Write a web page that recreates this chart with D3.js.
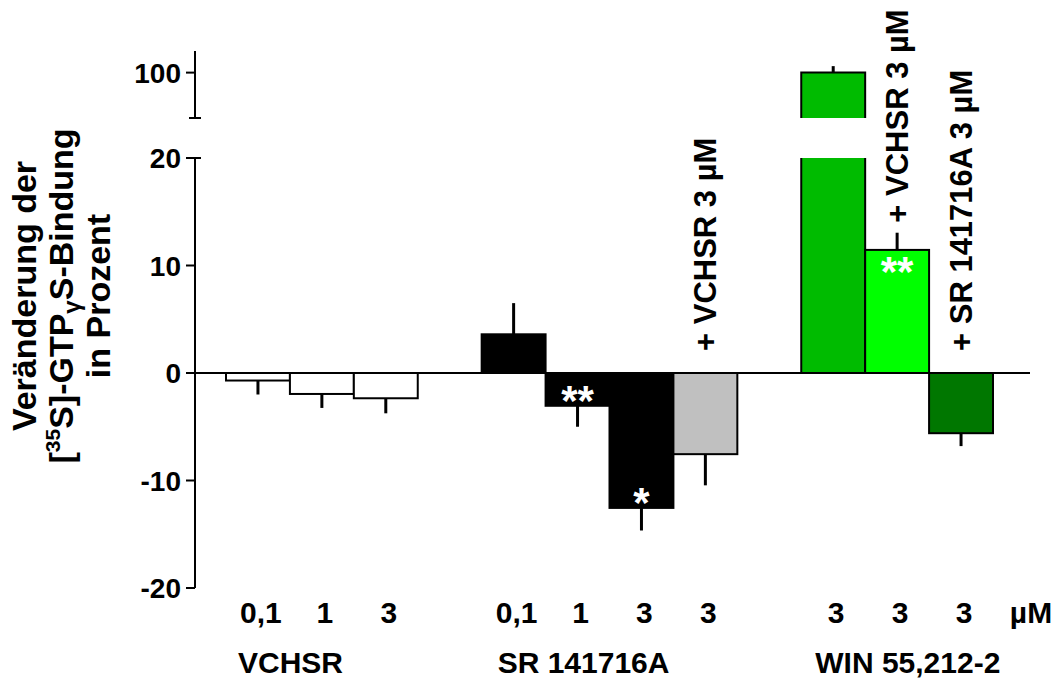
<!DOCTYPE html>
<html>
<head>
<meta charset="utf-8">
<script src="https://cdn.jsdelivr.net/npm/d3@7"></script>
<style>
  body { margin: 0; background: #fff; }
  text { font-family: Arial, "Liberation Sans", Helvetica, sans-serif; font-weight: bold; }
</style>
</head>
<body>
<svg id="chart" width="1063" height="678"></svg>
<script>
// data
const groups = ['VCHSR', 'SR 141716A', 'WIN 55,212-2']
const doses = ['0,1', '1', '3', '0,1', '1', '3', '3', '3', '3', '3']
const slots = [0, 1, 2, 4, 5, 6, 7, 9, 10, 11]
const means = [-0.7, -1.95, -2.35, 3.6, -3.05, -12.55, -7.55, 100, 11.45, -5.6]
const sems = [1.3, 1.3, 1.4, 2.9, 1.95, 2.1, 2.9, 0.6, 1.6, 1.2]
const fills = ['#ffffff', '#ffffff', '#ffffff', '#000000', '#000000', '#000000', '#c0c0c0', '#00bb00', '#00ff00', '#007700']
const stars = ['', '', '', '', '**', '*', '', '', '**', '']
const notes = [
    { bar: 6, text: '+ VCHSR 3 µM' },
    { bar: 8, text: '+ VCHSR 3 µM' },
    { bar: 9, text: '+ SR 141716A 3 µM' }
]
const lowTicks = [-20, -10, 0, 10, 20]
const highTicks = [100]

const svg = d3.select('#chart')

const x = d3.scaleBand()
    .domain(d3.range(12))
    .range([226, 993])
    .paddingInner(0)

const yLo = d3.scaleLinear().domain([-20, 20]).range([588, 158])
const yHi = d3.scaleLinear().domain([95.8, 102]).range([118, 51])
const axisX = 195
const breakVal = 20

// axes
svg.append('line')
    .attr('x1', axisX).attr('x2', axisX)
    .attr('y1', yLo(-20)).attr('y2', yLo(20))
    .attr('stroke', '#000').attr('stroke-width', 2)
svg.append('line')
    .attr('x1', axisX).attr('x2', axisX)
    .attr('y1', yHi(102)).attr('y2', yHi(95.8))
    .attr('stroke', '#000').attr('stroke-width', 2)
// break caps
svg.append('line')
    .attr('x1', axisX - 6).attr('x2', axisX + 6)
    .attr('y1', yLo(20)).attr('y2', yLo(20))
    .attr('stroke', '#000').attr('stroke-width', 2)
svg.append('line')
    .attr('x1', axisX - 6).attr('x2', axisX + 6)
    .attr('y1', yHi(95.8)).attr('y2', yHi(95.8))
    .attr('stroke', '#000').attr('stroke-width', 2)

const tickG = svg.append('g')
const allTicks = lowTicks.map(v => ({ v, y: yLo(v) }))
    .concat(highTicks.map(v => ({ v, y: yHi(v) })))
tickG.selectAll('line')
    .data(allTicks)
    .enter()
    .append('line')
    .attr('x1', axisX - 9).attr('x2', axisX)
    .attr('y1', d => d.y).attr('y2', d => d.y)
    .attr('stroke', '#000').attr('stroke-width', 2)
tickG.selectAll('text')
    .data(allTicks)
    .enter()
    .append('text')
    .attr('x', 181)
    .attr('y', d => d.y + 10)
    .attr('text-anchor', 'end')
    .attr('font-size', 28)
    .text(d => d.v)

// bars
const bars = means.map((m, i) => ({ m, s: sems[i], fill: fills[i], slot: slots[i], star: stars[i], dose: doses[i] }))
const barG = svg.append('g')

bars.forEach(d => {
    const x0 = x(d.slot)
    const w = x.bandwidth()
    if (d.m > breakVal) {
        // broken bar: lower part up to the break, upper part on the high scale
        barG.append('rect')
            .attr('x', x0).attr('width', w)
            .attr('y', yLo(breakVal)).attr('height', yLo(0) - yLo(breakVal))
            .attr('fill', d.fill)
        barG.append('rect')
            .attr('x', x0).attr('width', w)
            .attr('y', yHi(d.m)).attr('height', yHi(95.8) - yHi(d.m))
            .attr('fill', d.fill)
        barG.append('path')
            .attr('d', `M${x0},${yLo(breakVal)}V${yLo(0)}H${x0 + w}V${yLo(breakVal)}`)
            .attr('fill', 'none').attr('stroke', '#000').attr('stroke-width', 2)
        barG.append('path')
            .attr('d', `M${x0},${yHi(95.8)}V${yHi(d.m)}H${x0 + w}V${yHi(95.8)}`)
            .attr('fill', 'none').attr('stroke', '#000').attr('stroke-width', 2)
        barG.append('line')
            .attr('x1', x0 + w / 2).attr('x2', x0 + w / 2)
            .attr('y1', yHi(d.m)).attr('y2', yHi(d.m + d.s))
            .attr('stroke', '#000').attr('stroke-width', 3)
    } else {
        const top = yLo(Math.max(0, d.m))
        const bot = yLo(Math.min(0, d.m))
        barG.append('rect')
            .attr('x', x0).attr('width', w)
            .attr('y', top).attr('height', bot - top)
            .attr('fill', d.fill)
            .attr('stroke', '#000').attr('stroke-width', 2)
        const end = d.m >= 0 ? d.m + d.s : d.m - d.s
        barG.append('line')
            .attr('x1', x0 + w / 2).attr('x2', x0 + w / 2)
            .attr('y1', yLo(d.m)).attr('y2', yLo(end))
            .attr('stroke', '#000').attr('stroke-width', 3)
    }
    if (d.star) {
        const yb = d.m >= 0 ? yLo(d.m) + 36 : yLo(d.m) + 9
        barG.append('text')
            .attr('x', x0 + w / 2)
            .attr('y', yb)
            .attr('text-anchor', 'middle')
            .attr('font-size', 42)
            .attr('fill', '#fff')
            .text(d.star)
    }
})

// zero line
svg.append('line')
    .attr('x1', axisX).attr('x2', 1030)
    .attr('y1', yLo(0)).attr('y2', yLo(0))
    .attr('stroke', '#000').attr('stroke-width', 2)

// rotated notes above bars
notes.forEach(n => {
    const d = bars[n.bar]
    const cx = x(d.slot) + x.bandwidth() / 2 + 11
    const base = d.m > breakVal ? yHi(d.m) + 2 : (d.m >= 0 ? yLo(d.m + d.s) - 10 : yLo(0) - 22)
    svg.append('text')
        .attr('transform', `translate(${cx},${base}) rotate(-90)`)
        .attr('font-size', 31)
        .text(n.text)
})

// dose labels
svg.append('g').selectAll('text')
    .data(bars)
    .enter()
    .append('text')
    .attr('x', d => x(d.slot) + x.bandwidth() / 2 + 3)
    .attr('y', 623)
    .attr('text-anchor', 'middle')
    .attr('font-size', 30)
    .text(d => d.dose)
svg.append('text')
    .attr('x', x(11) + x.bandwidth() + 38)
    .attr('y', 623)
    .attr('text-anchor', 'middle')
    .attr('font-size', 30)
    .text('µM')

// group labels
const groupStart = [0, 4, 9]
svg.append('g').selectAll('text')
    .data(groups)
    .enter()
    .append('text')
    .attr('x', (d, i) => x(groupStart[i]) + [12, 16, 14][i])
    .attr('y', 673)
    .attr('font-size', 30)
    .text(d => d)

// y title
const title = svg.append('g').attr('transform', 'translate(0,296) rotate(-90)')
title.append('text').attr('x', 0).attr('y', 36).attr('text-anchor', 'middle').attr('font-size', 34)
    .text('Veränderung der')
const t2 = title.append('text').attr('x', 0).attr('y', 73).attr('text-anchor', 'middle').attr('font-size', 34)
t2.append('tspan').text('[')
t2.append('tspan').attr('font-size', 21).attr('dy', -13).text('35')
t2.append('tspan').attr('dy', 13).text('S]-GTP')
t2.append('tspan').attr('font-size', 24).attr('dy', 7).text('γ')
t2.append('tspan').attr('dy', -7).text('S-Bindung')
title.append('text').attr('x', 0).attr('y', 110).attr('text-anchor', 'middle').attr('font-size', 34)
    .text('in Prozent')
</script>
</body>
</html>
